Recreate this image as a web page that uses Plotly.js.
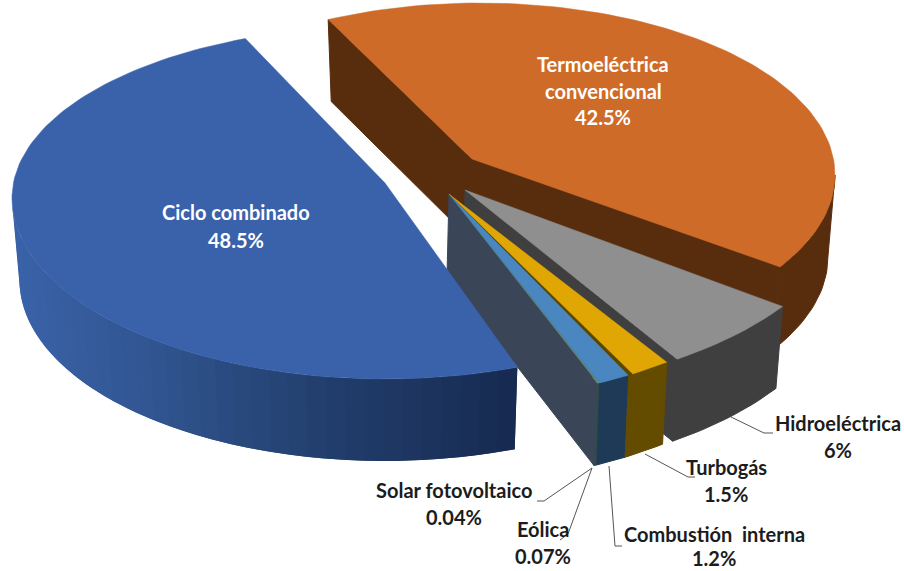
<!DOCTYPE html>
<html><head><meta charset="utf-8">
<script src="https://cdn.plot.ly/plotly-3.0.1.min.js"></script>
<style>html,body{margin:0;padding:0;background:#fff}#c{width:904px;height:571px}</style>
</head><body><div id="c"></div>
<script>
// ---- data, in the order the slices run round the pie
const categories = ["Ciclo combinado","Solar fotovoltaico","Eólica","Combustión interna","Turbogás","Hidroeléctrica","Termoeléctrica convencional"];
const values = [48.5,0.04,0.07,1.2,1.5,6,42.5];
const topColors = ["#3a62ab","#44546a","#5f9070","#4a86c0","#e0a604","#8f8f8f","#cf6b28"];
const wallColors = ["#2a4a80","#3a4558","#2e4f45","#1f3a57","#634c00","#3f3f3f","#582d0e"];

// ---- 3D pie projection: one perspective ellipse per exploded group
const DEPTH = 82, SHRINK = 0.98, SEAM = 0.7;
const groups = {
  blue:  {members:[0], ax:385,ay:183, bx:383, cx:385,cy:198, rx:373,ryTop:172,ryBot:181, start:112,   stretch:1.022},
  small: {members:[1,2,3,4], ax:449,ay:194, bx:447, cx:450,cy:197, rx:373,ryTop:203,ryBot:203, start:-66.8, stretch:1.15},
  gray:  {members:[5], ax:465,ay:190, bx:463, cx:450,cy:197, rx:400,ryTop:197,ryBot:197, start:-55.4, stretch:1},
  orange:{members:[6], ax:472,ay:159, bx:472, cx:480,cy:175, rx:355,ryTop:172,ryBot:172, start:-32.3, stretch:0.963}
};
const total = values.reduce((a,b)=>a+b,0);
const rad = d => d*Math.PI/180;
function rim(g,t){
  const s = Math.sin(rad(t));
  return [g.cx + g.rx*Math.cos(rad(t)), g.cy - (s>=0?g.ryTop:g.ryBot)*s];
}
function low(g,p){ return [g.cx + (p[0]-g.cx)*SHRINK, p[1]+DEPTH]; }
const traces = [];
function poly(pts,color,w){
  const xs = pts.map(p=>p[0]), ys = pts.map(p=>p[1]);
  xs.push(xs[0]); ys.push(ys[0]);
  traces.push({type:"scatter",mode:"lines",x:xs,y:ys,fill:"toself",fillcolor:color,
    line:{color:color,width:w===undefined?1:w},hoverinfo:"skip",showlegend:false});
}
function arc(a,b,step){
  const n = Math.max(2,Math.ceil(Math.abs(b-a)/(step||1.5))), out=[];
  for(let i=0;i<=n;i++) out.push(a+(b-a)*i/n);
  return out;
}
function span(g,i){ return values[i]/total*360*g.stretch; }
function lerpColor(stops,x){
  for(let i=0;i<stops.length-1;i++){
    const A=stops[i],B=stops[i+1];
    if(x<=B[0]){
      const f=Math.max(0,(x-A[0])/(B[0]-A[0]));
      return "rgb("+[0,1,2].map(k=>Math.round(A[1][k]+(B[1][k]-A[1][k])*f)).join(",")+")";
    }
  }
  return "rgb("+stops[stops.length-1][1].join(",")+")";
}
function solidWall(g,a,b,color){
  const ts = arc(a,b);
  poly(ts.map(t=>rim(g,t)).concat(ts.map(t=>low(g,rim(g,t))).reverse()),color,1);
}
function gradientWall(g,a,b,stops){
  // painted left to right, each band overlapping the next so no seams show
  const ts = arc(a,b,3);
  for(let i=0;i<ts.length-1;i++){
    const band = arc(ts[i],Math.min(b,ts[i+1]+3),1);
    const p = rim(g,ts[i]);
    poly(band.map(t=>rim(g,t)).concat(band.map(t=>low(g,rim(g,t))).reverse()),lerpColor(stops,p[0]),0);
  }
}
function face(g,t,color){
  const p=rim(g,t);
  poly([[g.ax,g.ay],p,low(g,p),[g.bx,g.ay+DEPTH]],color,1);
}
function wedge(g,a,b,color,w){
  poly([[g.ax,g.ay]].concat(arc(a,b).map(t=>rim(g,t))),color,w===undefined?0.5:w);
}

// orange (back)
{ const g=groups.orange, i=g.members[0], a=g.start, b=a+span(g,i);
  face(g,b,wallColors[i]); face(g,a,wallColors[i]);
  solidWall(g,a,Math.min(b,0),wallColors[i]);
  wedge(g,a,b,topColors[i]); }
// gray
{ const g=groups.gray, i=g.members[0], a=g.start, b=a+span(g,i);
  face(g,a,wallColors[i]); solidWall(g,a,b,wallColors[i]); wedge(g,a,b,topColors[i]); }
// small slices
{ const g=groups.small; let a=g.start;
  face(g,a,wallColors[1]);
  g.members.forEach(i=>{
    let p=a, q=a+span(g,i);
    if(categories[i]==="Turbogás"){ // dark seam in front of the yellow slice
      solidWall(g,p,p+SEAM,wallColors[i]); wedge(g,p,p+SEAM,"#5a4800",0); p+=SEAM; q+=SEAM;
    }
    solidWall(g,p,q,wallColors[i]); wedge(g,p,q,topColors[i],0.3); a=q;
  });
}
// blue (front)
{ const g=groups.blue, i=g.members[0], a=g.start, b=a+span(g,i);
  gradientWall(g,180,b,[[15,[58,98,168]],[150,[48,84,143]],[300,[35,64,111]],[517,[22,41,79]]]);
  wedge(g,a,b,topColors[i]); }

// ---- labels: each line of text placed on its own
const dark="#1c1c1c", white="#ffffff";
const pct = values.map(v=>v+"%");
const labels = [
  {i:0,x:236,c:white,lines:[["Ciclo combinado",212],[pct[0],240]]},
  {i:6,x:603,c:white,lines:[["Termoeléctrica",64],["convencional",91],[pct[6],117]]},
  {i:5,x:838,c:dark,lines:[[categories[5],423],[pct[5],450]]},
  {i:4,x:726,c:dark,lines:[[categories[4],467],[pct[4],494]]},
  {i:1,x:454,c:dark,lines:[[categories[1],490],[pct[1],517]]},
  {i:2,x:543,c:dark,lines:[[categories[2],529],[pct[2],556]]},
  {i:3,x:714,c:dark,lines:[["Combustión  interna",534],[pct[3],558]]}
];
const annotations = labels.flatMap(l=>l.lines.map(([t,y])=>({
  xref:"x",yref:"y",x:l.x,y:y,showarrow:false,align:"center",
  text:"<b>"+t+"</b>",
  font:{family:"Lato, Carlito, sans-serif",size:20,color:l.c}
})));
const leaders = [
  [[731,417],[764,433],[773,433]],
  [[645,454],[688,477],[695,477]],
  [[609,466],[615,546],[622,546]],
  [[592,468],[568,534],[560,540]],
  [[592,468],[544,501],[537,501]]
];
const shapes = leaders.map(L=>({type:"path",xref:"x",yref:"y",
  path:"M"+L.map(p=>p.join(",")).join("L"),line:{color:"#555555",width:1}}));

Plotly.newPlot("c",traces,{
  width:904,height:571,margin:{l:0,r:0,t:0,b:0},
  paper_bgcolor:"#fff",plot_bgcolor:"#fff",showlegend:false,
  xaxis:{range:[0,904],visible:false,fixedrange:true},
  yaxis:{range:[571,0],visible:false,fixedrange:true},
  annotations,shapes
},{displayModeBar:false,staticPlot:true});
</script></body></html>
